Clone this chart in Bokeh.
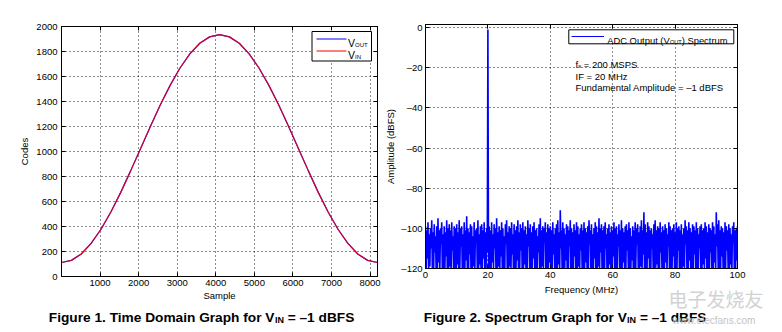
from bokeh.plotting import figure
from bokeh.models import Range1d, FixedTicker, LinearAxis, Label, BoxAnnotation
from bokeh.layouts import row, column
from bokeh.embed import file_html
from bokeh.resources import INLINE

# ---------------- data ----------------
# Figure 1: time domain (codes vs sample)
sample_idx = list(range(0, 8193, 256))
codes_vout = [112, 129, 180, 265, 378, 516, 673, 845, 1022, 1200, 1372, 1529, 1668, 1781, 1866, 1917, 1935,
              1917, 1866, 1781, 1668, 1529, 1372, 1200, 1022, 845, 673, 516, 378, 265, 180, 129, 112]
codes_vin = [112, 129, 180, 265, 378, 516, 673, 845, 1022, 1200, 1372, 1529, 1668, 1781, 1866, 1917, 1935,
             1917, 1866, 1781, 1668, 1529, 1372, 1200, 1022, 845, 673, 516, 378, 265, 180, 129, 112]
time_xticks = [1000, 2000, 3000, 4000, 5000, 6000, 7000, 8000]
time_yticks = [0, 200, 400, 600, 800, 1000, 1200, 1400, 1600, 1800, 2000]

# Figure 2: spectrum, 0.4 MHz bins; top and bottom of the trace within each bin (dBFS)
spec_bin_mhz = 0.4
spec_hi = [
    -99, -101, -97, -103, -100, -96, -102, -98, -104, -99, -95, -101, -100, -97, -103, -99, -102, -96, -100, -98, -101, -97, -104, -99, -100,
    -98, -102, -96, -100, -99, -103, -97, -101, -94, -100, -102, -98, -99, -104, -97, -101, -100, -96, -103, -99, -98, -101, -97, -102, -100,
    -1, -99, -101, -97, -103, -98, -100, -95, -102, -99, -101, -97, -100, -104, -98, -96, -102, -99, -100, -97, -103, -98, -101, -99, -96,
    -102, -98, -100, -97, -101, -99, -103, -96, -100, -98, -102, -99, -97, -101, -100, -104, -98, -95, -101, -99, -100, -97, -102, -98, -100,
    -99, -101, -97, -103, -100, -98, -96, -102, -91, -101, -97, -100, -103, -98, -99, -101, -96, -100, -102, -98, -101, -97, -99, -103, -100,
    -98, -101, -97, -100, -102, -99, -96, -101, -98, -103, -100, -97, -99, -102, -95, -100, -98, -101, -99, -97, -103, -100, -98, -102, -99,
    -101, -97, -100, -99, -103, -98, -101, -96, -100, -102, -99, -98, -101, -97, -100, -104, -99, -101, -97, -100, -98, -102, -99, -96, -101,
    -92, -98, -102, -97, -99, -101, -100, -103, -98, -96, -101, -99, -100, -97, -102, -99, -101, -98, -100, -103, -97, -99, -101, -100, -98,
    -102, -97, -100, -99, -101, -98, -103, -100, -96, -99, -101, -97, -100, -102, -98, -99, -101, -97, -100, -103, -99, -98, -101, -100, -97,
    -99, -102, -98, -100, -101, -97, -99, -103, -92, -98, -96, -101, -99, -100, -102, -97, -99, -101, -98, -100, -103, -99, -97, -101, -100,
    -99,
]
spec_lo = [
    -121, -115, -123, -119, -110, -122, -124, -112, -120, -125, -117, -121, -108, -123, -120, -122, -114, -124, -121, -119, -123, -111, -122, -120, -124,
    -118, -122, -121, -109, -124, -120, -123, -116, -121, -122, -113, -125, -120, -119, -123, -107, -121, -124, -118, -122, -120, -115, -123, -121, -112,
    -122, -120, -124, -117, -121, -110, -123, -122, -119, -124, -114, -121, -120, -123, -108, -122, -125, -119, -121, -113, -124, -120, -122, -116, -123,
    -120, -111, -124, -122, -118, -121, -123, -109, -120, -124, -121, -115, -122, -120, -123, -112, -121, -124, -119, -122, -107, -123, -120, -121, -117,
    -124, -122, -113, -120, -123, -121, -118, -125, -110, -122, -120, -123, -116, -121, -124, -109, -122, -120, -121, -114, -123, -122, -119, -124, -111,
    -121, -123, -120, -117, -122, -124, -108, -121, -120, -123, -115, -122, -124, -119, -121, -112, -123, -120, -122, -110, -124, -121, -118, -123, -120,
    -114, -122, -121, -124, -109, -120, -123, -122, -117, -121, -124, -111, -120, -122, -123, -116, -121, -124, -120, -108, -122, -123, -119, -121, -113,
    -124, -120, -122, -115, -121, -123, -110, -124, -121, -120, -118, -122, -123, -112, -121, -124, -120, -117, -122, -109, -123, -121, -124, -114, -120,
    -122, -121, -111, -124, -120, -123, -119, -122, -108, -121, -124, -116, -120, -123, -122, -113, -121, -124, -120, -110, -122, -123, -118, -121, -115,
    -123, -120, -124, -112, -121, -122, -117, -124, -109, -120, -123, -121, -114, -122, -124, -120, -111, -121, -123, -118, -122, -107, -124, -120, -116,
    -121,
]
spec_xticks = [0, 20, 40, 60, 80, 100]
spec_yticks = [-120, -100, -80, -60, -40, -20, 0]
spec_ylabels = {-120: "\u2013120", -100: "\u2013100", -80: "\u201380", -60: "\u201360",
                -40: "\u201340", -20: "\u201320", 0: "0"}

# trace: within each bin go from its top value to its bottom value
spec_x, spec_y = [], []
for i, (hi, lo) in enumerate(zip(spec_hi, spec_lo)):
    f = i * spec_bin_mhz
    spec_x += [f, f + spec_bin_mhz / 2]
    spec_y += [hi, lo]

# ---------------- styling helpers ----------------
FONT = "Liberation Sans"
TICK_PX = 9.5

W_REG = {' ': 278, '(': 333, ')': 333, '.': 278, '=': 584, '\u2013': 556, 'A': 667, 'B': 667, 'C': 722,
         'D': 722, 'F': 611, 'H': 722, 'I': 278, 'M': 833, 'N': 722, 'O': 778, 'P': 667, 'S': 667, 'T': 611,
         'U': 722, 'V': 667, 'a': 556, 'c': 500, 'd': 556, 'e': 556, 'f': 278, 'i': 222, 'l': 222, 'm': 833,
         'n': 556, 'p': 556, 'r': 333, 's': 500, 't': 278, 'u': 556, 'z': 500}
W_BOLD = {' ': 278, '.': 278, '=': 584, '\u2013': 556, 'B': 722, 'D': 722, 'F': 611, 'G': 778, 'I': 278,
          'N': 722, 'S': 667, 'T': 611, 'V': 667, 'a': 556, 'c': 556, 'd': 611, 'e': 556, 'f': 333, 'g': 611,
          'h': 611, 'i': 278, 'm': 889, 'n': 611, 'o': 611, 'p': 611, 'r': 389, 's': 556, 't': 333, 'u': 611}


def text_w(s, size, bold=False):
    table = W_BOLD if bold else W_REG
    return sum(table.get(ch, 556) for ch in s) * size / 1000.0


def make_fig(width, height, borders, xr, yr, styles=None):
    bl, br, bt, bb = borders
    kw = {}
    if styles:
        kw["styles"] = styles
    p = figure(width=width, height=height, output_backend="svg", toolbar_location=None,
               x_range=xr, y_range=yr,
               min_border_left=bl, min_border_right=br,
               min_border_top=bt, min_border_bottom=bb, **kw)
    p.outline_line_color = "black"
    p.outline_line_width = 1
    p.outline_line_alpha = 1
    p.background_fill_color = "white"
    p.border_fill_color = "white"
    return p


def style_axis(ax, ticks, overrides=None, label=None, lab_standoff=3, axlab_standoff=3, hidden=False):
    ax.ticker = FixedTicker(ticks=ticks)
    ax.major_tick_in = 4
    ax.major_tick_out = 0
    ax.minor_tick_line_color = None
    ax.axis_line_color = "black"
    ax.major_tick_line_color = "black"
    ax.major_label_text_font = FONT
    ax.major_label_text_color = "black"
    ax.major_label_text_font_size = f"{TICK_PX}px"
    ax.major_label_standoff = lab_standoff
    if overrides:
        ax.major_label_overrides = overrides
    if hidden:
        ax.major_label_overrides = {t: "" for t in ticks}
        ax.major_label_text_font_size = "1px"
        ax.major_label_standoff = 0
    if label:
        ax.axis_label = label
        ax.axis_label_text_font = FONT
        ax.axis_label_text_font_size = f"{TICK_PX}px"
        ax.axis_label_text_font_style = "normal"
        ax.axis_label_text_color = "black"
        ax.axis_label_standoff = axlab_standoff


def style_grid(p, xticks, yticks):
    for g, t in ((p.xgrid[0], xticks), (p.ygrid[0], yticks)):
        g.ticker = FixedTicker(ticks=t)
        g.grid_line_color = "black"
        g.grid_line_dash = "1 3"
        g.grid_line_width = 1
        g.grid_line_alpha = 0.9


class Placer:
    """Places annotations inside a figure frame using page pixel coordinates."""

    def __init__(self, p, frame_left_page, frame_bottom_page):
        self.p = p
        self.fl = frame_left_page
        self.fb = frame_bottom_page

    def sx(self, X):
        return X - self.fl

    def sy(self, Y):
        return self.fb - Y

    def text(self, X, Y, s, size, bold=False, color="black", font=FONT):
        self.p.add_layout(Label(x=self.sx(X), y=self.sy(Y), x_units="screen", y_units="screen", text=s,
                                text_font=font, text_font_size=f"{size}px",
                                text_font_style="bold" if bold else "normal",
                                text_color=color, text_baseline="alphabetic", text_align="left"))

    def run(self, X, Y, parts, bold=False):
        for s, size, dy in parts:
            stripped = s.lstrip(" ")
            lead = text_w(s[:len(s) - len(stripped)], size, bold)
            self.text(X + lead, Y + dy, stripped, size, bold)
            X += text_w(s, size, bold)

    def box(self, L, T, R, B, line_color="black", fill_color="white", lw=1):
        self.p.add_layout(BoxAnnotation(left=self.sx(L), right=self.sx(R), top=self.sy(T), bottom=self.sy(B),
                                        left_units="screen", right_units="screen",
                                        top_units="screen", bottom_units="screen",
                                        fill_color=fill_color, fill_alpha=1 if fill_color else 0,
                                        line_color=line_color, line_width=lw, line_alpha=1))

    def hline(self, L, R, Y, color, lw=1.2):
        self.box(L, Y, R, Y, line_color=color, fill_color=None, lw=lw)


class PagePlacer(Placer):
    """Overlay figure whose data coordinates are page pixels (y downward)."""

    def __init__(self, p):
        self.p = p

    def text(self, X, Y, s, size, bold=False, color="black", font=FONT):
        self.p.add_layout(Label(x=X, y=Y, text=s, text_font=font, text_font_size=f"{size}px",
                                text_font_style="bold" if bold else "normal",
                                text_color=color, text_baseline="alphabetic", text_align="left"))


H = 332
BT, BB = 26, 56          # shared top / bottom borders (row aligns plot frames)

# ---------------- figure 1 ----------------
W1 = 382
p1 = make_fig(W1, H, (61, W1 - 377, BT, BB), Range1d(0, 8192), Range1d(0, 2000))
style_axis(p1.xaxis[0], time_xticks, label="Sample", lab_standoff=3, axlab_standoff=1)
style_axis(p1.yaxis[0], time_yticks, label="Codes", lab_standoff=4, axlab_standoff=3)
top1 = LinearAxis()
right1 = LinearAxis()
p1.add_layout(top1, "above")
p1.add_layout(right1, "right")
style_axis(top1, time_xticks, hidden=True)
style_axis(right1, time_yticks, hidden=True)
style_grid(p1, time_xticks, time_yticks)

p1.line(sample_idx, codes_vout, line_color="#0000ff", line_width=1.2)
p1.line(sample_idx, codes_vin, line_color="#ff0000", line_width=1.2, line_alpha=0.8)

pl1 = Placer(p1, 61, H - BB)
pl1.box(311.5, 31, 371, 60.5)
pl1.hline(316, 346, 38.5, "#0000ff")
pl1.hline(316, 346, 50.5, "#ff0000")
pl1.run(347.5, 42.5, [("V", 10.5, 0), ("OUT", 6, 2.3)])
pl1.run(347.5, 54.5, [("V", 10.5, 0), ("IN", 6, 2.3)])

# ---------------- figure 2 ----------------
W2 = 782 - W1
SHIFT2 = 2                       # figure 2 sits 2 px higher than figure 1
H2 = H - 2 * SHIFT2 - 2          # frame spans page y 24 .. 268
p2 = make_fig(W2, H2, (425 - W1, 782 - 737, BT, BB), Range1d(0, 100), Range1d(-120, 1.5),
              styles={"margin-top": f"-{SHIFT2}px"})
style_axis(p2.xaxis[0], spec_xticks, label="Frequency (MHz)", lab_standoff=3, axlab_standoff=3)
style_axis(p2.yaxis[0], spec_yticks, overrides=spec_ylabels, label="Amplitude (dBFS)", lab_standoff=3,
           axlab_standoff=2)
top2 = LinearAxis()
right2 = LinearAxis()
p2.add_layout(top2, "above")
p2.add_layout(right2, "right")
style_axis(top2, spec_xticks, hidden=True)
style_axis(right2, spec_yticks, hidden=True)
style_grid(p2, spec_xticks, spec_yticks)

p2.line(spec_x, spec_y, line_color="#0000ff", line_width=1.6)

pl2 = Placer(p2, 425, H2 - BB - SHIFT2)
pl2.box(568.3, 29.3, 733.3, 43.3)
pl2.hline(571, 603.5, 36, "#0000ff")
pl2.run(606.7, 39.5, [("ADC Output (V", 9.4, 0), ("OUT", 5.6, 2), (") Spectrum", 9.4, 0)])
pl2.run(575, 63.5, [("f", 9.5, 0), ("s", 6, 2), (" = 200 MSPS", 9.5, 0)])
pl2.run(575, 75.8, [("IF = 20 MHz", 9.5, 0)])
pl2.run(575, 87.2, [("Fundamental Amplitude = \u20131 dBFS", 9.5, 0)])

# ---------------- caption overlay (page-pixel coordinates) ----------------
ov = figure(width=782, height=H, output_backend="svg", toolbar_location=None,
            x_range=Range1d(0, 782), y_range=Range1d(H, 0),
            x_axis_type=None, y_axis_type=None,
            min_border_left=0, min_border_right=0, min_border_top=0, min_border_bottom=0,
            styles={"margin-top": f"-{H}px"})
ov.outline_line_color = None
ov.background_fill_alpha = 0
ov.border_fill_alpha = 0
ov.grid.visible = False

po = PagePlacer(ov)
po.run(48.3, 316.5, [("Figure 1. Time Domain Graph for V", 13.7, 0), ("IN", 9, 2.5),
                     (" = \u20131 dBFS", 13.7, 0)], bold=True)
po.run(423.3, 316.5, [("Figure 2. Spectrum Graph for V", 13.7, 0), ("IN", 9, 2.5),
                      (" = \u20131 dBFS", 13.7, 0)], bold=True)
po.text(668, 298, "电子发烧友", 19, color="#d2d2d2", font="Noto Sans CJK SC")
po.text(672, 320, "www.elecfans.com", 10, color="#c4c4c4")

layout = column(row(p1, p2), ov)
open("out.html", "w").write(file_html(layout, INLINE))
